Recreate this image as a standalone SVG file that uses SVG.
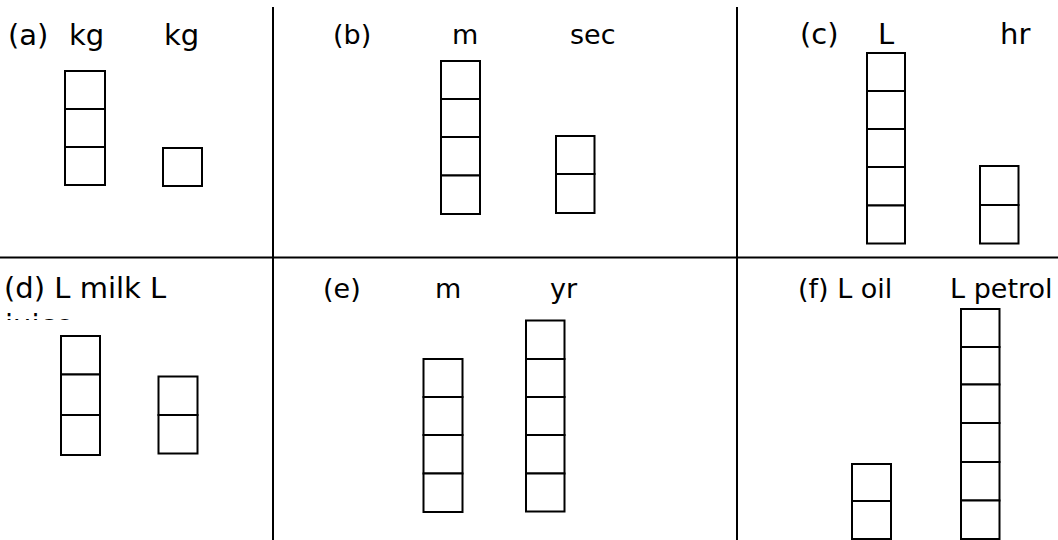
<svg xmlns="http://www.w3.org/2000/svg" width="1058" height="540" viewBox="0 0 1058 540">
  <style>
    .grid { stroke: #000; stroke-width: 2; fill: none; }
    .cell { fill: #fff; stroke: #000; stroke-width: 2; }
    .lbl { font-family: "DejaVu Sans", Verdana, sans-serif; font-size: 27px; fill: #000; }
    .lbl.wide { font-size: 29px; }
  </style>
  <defs>
    <clipPath id="clipD">
      <rect x="0" y="259" width="272" height="61"/>
    </clipPath>
  </defs>
  <rect width="1058" height="540" fill="#fff"/>

  <!-- panel dividers -->
  <g id="dividers">
    <line class="grid" x1="0" y1="257.5" x2="1058" y2="257.5"/>
    <line class="grid" x1="273" y1="7" x2="273" y2="540"/>
    <line class="grid" x1="737" y1="7" x2="737" y2="540"/>
  </g>

  <!-- (a) kg vs kg -->
  <g id="panel-a">
    <text class="lbl wide" x="8" y="45">(a)</text>
    <text class="lbl wide" x="69" y="45">kg</text>
    <text class="lbl wide" x="164" y="45">kg</text>
    <rect class="cell" x="65" y="71" width="40" height="38"/>
    <rect class="cell" x="65" y="109" width="40" height="38"/>
    <rect class="cell" x="65" y="147" width="40" height="38"/>
    <rect class="cell" x="163" y="148" width="39" height="38"/>
  </g>

  <!-- (b) m vs sec -->
  <g id="panel-b">
    <text class="lbl" x="333" y="43.5">(b)</text>
    <text class="lbl" x="452" y="43.5">m</text>
    <text class="lbl" x="570" y="43.5">sec</text>
    <rect class="cell" x="441" y="61" width="39" height="38"/>
    <rect class="cell" x="441" y="99" width="39" height="38"/>
    <rect class="cell" x="441" y="137" width="39" height="38.5"/>
    <rect class="cell" x="441" y="175.5" width="39" height="38.5"/>
    <rect class="cell" x="556" y="136" width="38.5" height="38"/>
    <rect class="cell" x="556" y="174" width="38.5" height="39"/>
  </g>

  <!-- (c) L vs hr -->
  <g id="panel-c">
    <text class="lbl wide" x="800" y="43.5">(c)</text>
    <text class="lbl wide" x="878" y="43.5">L</text>
    <text class="lbl wide" x="1000" y="43.5">hr</text>
    <rect class="cell" x="867" y="53" width="38" height="38"/>
    <rect class="cell" x="867" y="91" width="38" height="38"/>
    <rect class="cell" x="867" y="129" width="38" height="38"/>
    <rect class="cell" x="867" y="167" width="38" height="38.5"/>
    <rect class="cell" x="867" y="205.5" width="38" height="38"/>
    <rect class="cell" x="980" y="166" width="38.5" height="39"/>
    <rect class="cell" x="980" y="205" width="38.5" height="38.5"/>
  </g>

  <!-- (d) L milk vs L juice -->
  <g id="panel-d">
    <text class="lbl wide" x="4" y="298">(d) L milk L</text>
    <text class="lbl wide" x="5" y="335" clip-path="url(#clipD)">juice</text>
    <rect class="cell" x="61" y="336" width="39" height="38.5"/>
    <rect class="cell" x="61" y="374.5" width="39" height="40.5"/>
    <rect class="cell" x="61" y="415" width="39" height="40"/>
    <rect class="cell" x="158.5" y="376.5" width="39" height="38.5"/>
    <rect class="cell" x="158.5" y="415" width="39" height="38.5"/>
  </g>

  <!-- (e) m vs yr -->
  <g id="panel-e">
    <text class="lbl" x="323" y="298">(e)</text>
    <text class="lbl" x="435" y="298">m</text>
    <text class="lbl" x="550" y="298">yr</text>
    <rect class="cell" x="423.5" y="359" width="39" height="38"/>
    <rect class="cell" x="423.5" y="397" width="39" height="38"/>
    <rect class="cell" x="423.5" y="435" width="39" height="38.5"/>
    <rect class="cell" x="423.5" y="473.5" width="39" height="38.5"/>
    <rect class="cell" x="526" y="320.5" width="38.5" height="38.5"/>
    <rect class="cell" x="526" y="359" width="38.5" height="38"/>
    <rect class="cell" x="526" y="397" width="38.5" height="38"/>
    <rect class="cell" x="526" y="435" width="38.5" height="38.5"/>
    <rect class="cell" x="526" y="473.5" width="38.5" height="38"/>
  </g>

  <!-- (f) L oil vs L petrol -->
  <g id="panel-f">
    <text class="lbl" x="798" y="298">(f) L oil</text>
    <text class="lbl" x="950" y="298">L petrol</text>
    <rect class="cell" x="852" y="464" width="39" height="37"/>
    <rect class="cell" x="852" y="501" width="39" height="38"/>
    <rect class="cell" x="961" y="309" width="38.5" height="38"/>
    <rect class="cell" x="961" y="347" width="38.5" height="37.5"/>
    <rect class="cell" x="961" y="384.5" width="38.5" height="38.5"/>
    <rect class="cell" x="961" y="423" width="38.5" height="39"/>
    <rect class="cell" x="961" y="462" width="38.5" height="38.5"/>
    <rect class="cell" x="961" y="500.5" width="38.5" height="38.5"/>
  </g>
</svg>
